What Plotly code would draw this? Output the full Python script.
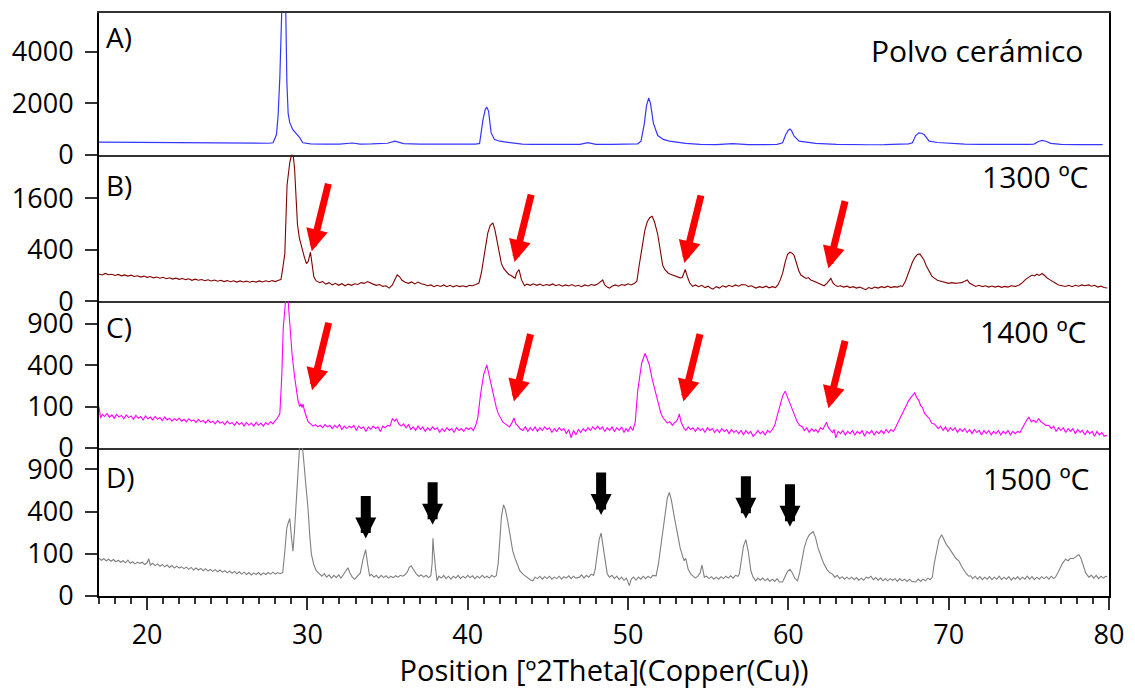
import numpy as np
import plotly.graph_objects as go
from plotly.subplots import make_subplots

# ---------------- data: (2theta [deg], intensity [counts]) ----------------
A_pts = [(17.0, 495), (18, 490), (19, 485), (20, 480), (21, 470), (22, 468), (23, 460), (24, 455), (25, 452),
         (26, 448), (27, 445), (27.6, 450), (27.86, 470), (28.07, 790), (28.17, 1500), (28.28, 3010),
         (28.4, 5600), (28.52, 8000), (28.65, 5600), (28.72, 2800), (28.8, 1600), (28.9, 1250), (29.09, 980),
         (29.3, 820), (29.52, 670), (29.71, 470), (30.2, 430), (31, 420), (32, 418), (32.8, 460), (33.3, 420),
         (34, 425), (35, 450), (35.45, 530), (36, 440), (37, 420), (38, 415), (39, 412), (40, 410), (40.5, 420),
         (40.74, 446), (40.95, 1360), (41.1, 1780), (41.19, 1844), (41.3, 1700), (41.46, 853), (41.67, 598),
         (42, 530), (42.4, 495), (43.4, 420), (44, 410), (45, 405), (46, 400), (47, 405), (47.49, 472),
         (48, 410), (49, 405), (50, 410), (50.6, 430), (50.81, 533), (51.02, 1234), (51.15, 1900), (51.29, 2210),
         (51.4, 2000), (51.58, 1234), (51.85, 750), (52.2, 600), (52.58, 533), (53.6, 446), (54.5, 410),
         (55.5, 400), (56.52, 434), (57.5, 395), (58.5, 395), (59.3, 410), (59.64, 472), (59.84, 789),
         (60.0, 960), (60.1, 1005), (60.2, 940), (60.36, 724), (60.67, 533), (61.2, 480), (61.7, 446),
         (63, 410), (63.8, 396), (65, 392), (66, 395), (67, 405), (67.5, 430), (67.74, 472), (67.94, 750),
         (68.15, 853), (68.3, 840), (68.47, 789), (68.78, 533), (69.3, 480), (70.0, 446), (71, 420), (72, 405),
         (73, 400), (74, 398), (75, 405), (75.32, 420), (75.6, 520), (75.83, 560), (76.1, 520), (76.36, 446),
         (77, 410), (78, 400), (79, 396), (79.6, 396)]

B_pts = [(17.0, 112), (17.2, 104), (17.4, 116), (17.6, 106), (17.8, 110), (18.0, 100), (18.2, 108), (18.4, 97),
         (18.6, 104), (18.8, 95), (19.0, 102), (19.2, 92), (19.4, 98), (19.6, 88), (19.8, 95), (20.0, 86),
         (20.2, 92), (20.4, 82), (20.6, 88), (20.8, 80), (21.0, 86), (21.2, 76), (21.4, 83), (21.6, 74),
         (21.8, 80), (22.0, 72), (22.2, 78), (22.4, 70), (22.6, 76), (22.8, 66), (23.0, 73), (23.2, 66),
         (23.4, 71), (23.6, 63), (23.8, 69), (24.0, 62), (24.2, 68), (24.4, 60), (24.6, 66), (24.8, 58),
         (25.0, 64), (25.2, 57), (25.4, 63), (25.6, 55), (25.8, 62), (26.0, 56), (26.2, 61), (26.4, 54),
         (26.6, 60), (26.8, 55), (27.0, 62), (27.2, 56), (27.4, 63), (27.6, 57), (27.8, 64), (28.0, 58),
         (28.2, 66), (28.35, 70), (28.45, 150), (28.59, 338), (28.73, 2024), (28.9, 2900), (29.04, 3300),
         (29.12, 3180), (29.2, 2635), (29.38, 886), (29.5, 600), (29.63, 437), (29.8, 300), (29.94, 212),
         (30.05, 240), (30.19, 361), (30.3, 200), (30.4, 90), (30.55, 62), (30.77, 52), (30.95, 58), (31.15, 44),
         (31.35, 52), (31.55, 40), (31.75, 48), (31.95, 38), (32.15, 46), (32.35, 36), (32.55, 44), (32.75, 38),
         (32.95, 46), (33.15, 42), (33.35, 52), (33.55, 48), (33.75, 58), (33.9, 50), (34.1, 44), (34.3, 38),
         (34.5, 42), (34.7, 33), (34.9, 36), (35.1, 26), (35.3, 40), (35.45, 70), (35.6, 105), (35.75, 90),
         (35.9, 66), (36.1, 54), (36.3, 48), (36.5, 56), (36.7, 45), (36.9, 55), (37.1, 46), (37.3, 42),
         (37.5, 36), (37.7, 40), (37.9, 32), (38.1, 38), (38.3, 33), (38.5, 40), (38.7, 32), (38.9, 38),
         (39.1, 31), (39.3, 37), (39.5, 32), (39.7, 36), (39.9, 31), (40.1, 38), (40.3, 36), (40.5, 42),
         (40.7, 50), (40.85, 120), (41.0, 300), (41.1, 437), (41.25, 700), (41.4, 860), (41.57, 925),
         (41.7, 760), (41.78, 611), (41.95, 360), (42.1, 212), (42.25, 160), (42.4, 130), (42.55, 110),
         (42.7, 100), (42.85, 88), (42.95, 79), (43.05, 120), (43.2, 151), (43.35, 70), (43.54, 36), (43.7, 44),
         (43.9, 38), (44.1, 46), (44.3, 38), (44.5, 44), (44.7, 36), (44.9, 42), (45.1, 38), (45.3, 45),
         (45.5, 36), (45.7, 42), (45.9, 34), (46.1, 40), (46.3, 35), (46.5, 42), (46.7, 34), (46.9, 38),
         (47.1, 32), (47.3, 40), (47.5, 35), (47.7, 42), (47.9, 38), (48.1, 44), (48.3, 60), (48.42, 68),
         (48.55, 40), (48.7, 30), (48.84, 26), (49.0, 34), (49.2, 40), (49.4, 34), (49.6, 42), (49.8, 38),
         (50.0, 46), (50.2, 40), (50.4, 48), (50.55, 60), (50.7, 200), (50.91, 491), (51.05, 760), (51.2, 950),
         (51.35, 1050), (51.5, 1087), (51.65, 950), (51.85, 675), (52.0, 380), (52.16, 195), (52.3, 150),
         (52.5, 120), (52.65, 110), (52.78, 103), (52.95, 92), (53.1, 90), (53.25, 82), (53.38, 85),
         (53.45, 110), (53.57, 151), (53.7, 90), (53.85, 50), (54.03, 33), (54.2, 40), (54.4, 32), (54.6, 38),
         (54.8, 28), (55.0, 34), (55.15, 26), (55.3, 22), (55.5, 32), (55.7, 26), (55.9, 36), (56.1, 30),
         (56.3, 38), (56.5, 32), (56.7, 40), (56.9, 34), (57.1, 42), (57.35, 40), (57.5, 32), (57.7, 36),
         (57.97, 26), (58.2, 32), (58.4, 28), (58.6, 34), (58.8, 27), (59.0, 32), (59.2, 28), (59.35, 40),
         (59.5, 70), (59.64, 116), (59.8, 230), (59.95, 330), (60.1, 361), (60.25, 345), (60.36, 315),
         (60.5, 220), (60.65, 140), (60.78, 103), (60.95, 90), (61.1, 78), (61.25, 84), (61.4, 68), (61.6, 60),
         (61.8, 52), (62.0, 44), (62.23, 36), (62.4, 48), (62.55, 66), (62.65, 79), (62.78, 50), (62.9, 40),
         (63.06, 33), (63.25, 36), (63.45, 30), (63.65, 34), (63.85, 28), (64.05, 32), (64.25, 26), (64.45, 30),
         (64.65, 24), (64.83, 20), (65.0, 28), (65.2, 24), (65.4, 30), (65.6, 26), (65.8, 32), (66.0, 28),
         (66.2, 34), (66.4, 28), (66.6, 32), (66.8, 30), (67.0, 36), (67.12, 33), (67.3, 60), (67.5, 120),
         (67.62, 180), (67.74, 231), (67.9, 290), (68.05, 330), (68.2, 338), (68.32, 300), (68.45, 260),
         (68.6, 190), (68.78, 130), (68.95, 95), (69.1, 80), (69.3, 66), (69.45, 62), (69.6, 58), (69.8, 52),
         (70.0, 48), (70.2, 52), (70.43, 48), (70.6, 50), (70.8, 52), (71.0, 60), (71.16, 68), (71.3, 50),
         (71.5, 40), (71.68, 33), (71.9, 38), (72.1, 32), (72.3, 36), (72.5, 30), (72.7, 35), (72.9, 30),
         (73.1, 34), (73.3, 29), (73.5, 33), (73.7, 30), (73.9, 36), (74.17, 33), (74.4, 40), (74.6, 52),
         (74.8, 72), (75.0, 88), (75.2, 103), (75.35, 96), (75.5, 110), (75.65, 100), (75.83, 116), (76.0, 98),
         (76.1, 85), (76.3, 70), (76.46, 58), (76.65, 50), (76.85, 40), (77.05, 36), (77.29, 33), (77.5, 38),
         (77.7, 32), (77.9, 38), (78.1, 34), (78.3, 40), (78.5, 36), (78.74, 40), (78.9, 34), (79.1, 38),
         (79.3, 30), (79.5, 34), (79.7, 28), (79.89, 26)]

C_pts = [(17.0, 100), (17.1, 52), (17.2, 66), (17.35, 58), (17.5, 70), (17.65, 55), (17.8, 64), (17.95, 52),
         (18.1, 66), (18.25, 56), (18.4, 62), (18.55, 50), (18.7, 64), (18.85, 54), (19.0, 60), (19.15, 48),
         (19.3, 62), (19.45, 52), (19.6, 58), (19.75, 46), (19.9, 60), (20.05, 50), (20.2, 56), (20.35, 46),
         (20.5, 58), (20.65, 48), (20.8, 54), (20.95, 44), (21.1, 56), (21.25, 46), (21.4, 52), (21.55, 42),
         (21.7, 50), (21.85, 44), (22.0, 52), (22.15, 42), (22.3, 48), (22.45, 40), (22.6, 50), (22.75, 42),
         (22.9, 46), (23.05, 38), (23.2, 48), (23.35, 40), (23.5, 44), (23.65, 36), (23.8, 46), (23.95, 38),
         (24.1, 42), (24.25, 34), (24.4, 44), (24.55, 36), (24.7, 40), (24.85, 32), (25.0, 42), (25.15, 34),
         (25.3, 38), (25.45, 30), (25.6, 40), (25.75, 32), (25.9, 38), (26.05, 28), (26.2, 38), (26.35, 30),
         (26.5, 36), (26.65, 28), (26.8, 38), (26.95, 30), (27.1, 36), (27.25, 28), (27.4, 38), (27.55, 32),
         (27.7, 40), (27.85, 34), (27.97, 42), (28.1, 50), (28.28, 68), (28.4, 300), (28.49, 828), (28.6, 1300),
         (28.7, 1500), (28.8, 1250), (28.9, 920), (29.05, 500), (29.21, 286), (29.32, 180), (29.42, 129),
         (29.52, 100), (29.6, 115), (29.67, 95), (29.73, 112), (29.82, 80), (29.94, 55), (30.05, 40), (30.2, 34),
         (30.35, 28), (30.5, 32), (30.65, 26), (30.8, 30), (30.95, 24), (31.1, 32), (31.25, 26), (31.4, 30),
         (31.55, 22), (31.7, 30), (31.85, 24), (32.0, 32), (32.15, 20), (32.3, 28), (32.45, 22), (32.6, 28),
         (32.75, 24), (32.9, 30), (33.05, 18), (33.2, 28), (33.35, 22), (33.5, 26), (33.65, 16), (33.8, 26),
         (33.95, 20), (34.1, 28), (34.25, 22), (34.4, 26), (34.55, 16), (34.7, 28), (34.85, 24), (35.0, 30),
         (35.15, 28), (35.3, 50), (35.45, 42), (35.55, 50), (35.7, 34), (35.85, 28), (36.0, 34), (36.15, 24),
         (36.3, 32), (36.45, 20), (36.6, 26), (36.75, 18), (36.9, 28), (37.05, 20), (37.2, 26), (37.35, 16),
         (37.5, 24), (37.65, 18), (37.8, 26), (37.95, 20), (38.1, 24), (38.25, 14), (38.4, 22), (38.55, 16),
         (38.7, 24), (38.85, 18), (39.0, 22), (39.15, 14), (39.3, 24), (39.45, 18), (39.6, 22), (39.75, 16),
         (39.9, 24), (40.05, 20), (40.2, 24), (40.35, 18), (40.5, 30), (40.63, 55), (40.8, 168), (41.0, 320),
         (41.19, 403), (41.3, 330), (41.46, 235), (41.6, 150), (41.78, 96), (41.9, 70), (42.05, 52), (42.19, 39),
         (42.35, 34), (42.5, 28), (42.6, 26), (42.75, 36), (42.88, 53), (43.0, 34), (43.1, 30), (43.25, 22),
         (43.44, 18), (43.6, 26), (43.75, 16), (43.9, 24), (44.05, 18), (44.2, 26), (44.35, 16), (44.5, 24),
         (44.65, 18), (44.8, 26), (44.95, 20), (45.1, 24), (45.25, 14), (45.4, 22), (45.55, 16), (45.7, 24),
         (45.85, 18), (46.0, 22), (46.15, 12), (46.3, 20), (46.45, 6), (46.6, 18), (46.75, 10), (46.9, 20),
         (47.05, 14), (47.2, 22), (47.35, 16), (47.5, 24), (47.65, 18), (47.8, 26), (47.95, 20), (48.1, 28),
         (48.25, 20), (48.4, 26), (48.55, 16), (48.7, 24), (48.85, 18), (49.0, 26), (49.15, 16), (49.3, 24),
         (49.45, 18), (49.6, 26), (49.75, 14), (49.87, 22), (50.0, 16), (50.15, 26), (50.3, 18), (50.45, 40),
         (50.6, 189), (50.85, 420), (51.06, 522), (51.2, 460), (51.33, 403), (51.5, 280), (51.75, 168),
         (51.9, 100), (52.05, 70), (52.16, 55), (52.3, 44), (52.45, 36), (52.6, 40), (52.78, 30), (52.9, 38),
         (53.0, 40), (53.1, 50), (53.2, 68), (53.3, 40), (53.4, 30), (53.5, 22), (53.61, 18), (53.75, 26),
         (53.9, 20), (54.05, 24), (54.2, 16), (54.35, 24), (54.5, 18), (54.65, 22), (54.8, 14), (54.95, 24),
         (55.1, 18), (55.27, 22), (55.4, 14), (55.55, 20), (55.7, 14), (55.85, 22), (56.0, 16), (56.15, 20),
         (56.3, 12), (56.45, 20), (56.6, 14), (56.75, 18), (56.9, 12), (57.05, 18), (57.2, 10), (57.35, 18),
         (57.5, 12), (57.65, 16), (57.8, 8), (57.97, 12), (58.1, 18), (58.25, 12), (58.4, 16), (58.55, 10),
         (58.7, 18), (58.85, 14), (59.0, 20), (59.15, 30), (59.3, 60), (59.45, 95), (59.53, 112), (59.65, 160),
         (59.8, 189), (59.95, 150), (60.1, 110), (60.26, 81), (60.4, 60), (60.55, 40), (60.7, 30), (60.88, 26),
         (61.0, 18), (61.15, 24), (61.3, 14), (61.45, 22), (61.6, 16), (61.71, 20), (61.85, 14), (62.0, 24),
         (62.15, 20), (62.3, 30), (62.38, 39), (62.5, 24), (62.6, 20), (62.75, 14), (62.85, 20), (62.96, 6),
         (63.1, 16), (63.25, 12), (63.4, 18), (63.55, 10), (63.7, 16), (63.85, 12), (64.0, 18), (64.15, 10),
         (64.3, 16), (64.45, 12), (64.6, 18), (64.75, 8), (64.9, 16), (65.05, 12), (65.2, 18), (65.35, 10),
         (65.5, 16), (65.65, 12), (65.8, 18), (65.95, 12), (66.1, 20), (66.25, 14), (66.4, 20), (66.55, 16),
         (66.7, 26), (66.85, 40), (67.0, 55), (67.15, 70), (67.32, 96), (67.5, 130), (67.65, 150), (67.8, 165),
         (67.88, 178), (68.0, 150), (68.15, 130), (68.25, 105), (68.36, 96), (68.5, 70), (68.65, 58), (68.8, 50),
         (68.95, 36), (69.1, 34), (69.19, 30), (69.35, 22), (69.5, 28), (69.65, 18), (69.8, 26), (69.95, 16),
         (70.1, 24), (70.25, 18), (70.4, 24), (70.55, 14), (70.7, 22), (70.85, 16), (71.0, 22), (71.15, 14),
         (71.3, 20), (71.45, 12), (71.6, 20), (71.75, 14), (71.9, 18), (72.05, 10), (72.2, 18), (72.35, 12),
         (72.5, 18), (72.65, 10), (72.8, 16), (72.95, 12), (73.1, 18), (73.25, 10), (73.4, 16), (73.55, 12),
         (73.7, 18), (73.85, 10), (74.0, 16), (74.15, 12), (74.3, 16), (74.45, 14), (74.6, 24), (74.75, 36),
         (74.9, 48), (75.0, 55), (75.15, 40), (75.3, 45), (75.45, 38), (75.62, 50), (75.75, 40), (75.9, 36),
         (76.05, 30), (76.25, 30), (76.4, 22), (76.55, 28), (76.7, 16), (76.85, 24), (77.0, 18), (77.15, 24),
         (77.3, 14), (77.45, 22), (77.6, 16), (77.75, 22), (77.9, 12), (78.05, 20), (78.2, 14), (78.33, 18),
         (78.5, 10), (78.65, 18), (78.8, 12), (78.95, 16), (79.1, 8), (79.25, 16), (79.4, 10), (79.55, 14),
         (79.7, 8), (79.89, 10)]

D_pts = [(17.0, 80), (17.15, 72), (17.3, 78), (17.45, 70), (17.6, 76), (17.75, 68), (17.9, 75), (18.05, 66),
         (18.2, 72), (18.35, 64), (18.5, 70), (18.65, 62), (18.8, 72), (18.95, 60), (19.1, 66), (19.25, 58),
         (19.4, 64), (19.55, 60), (19.7, 64), (19.85, 56), (20.0, 62), (20.1, 78), (20.2, 54), (20.35, 60),
         (20.5, 52), (20.65, 58), (20.8, 50), (20.95, 56), (21.1, 48), (21.25, 54), (21.4, 46), (21.55, 52),
         (21.7, 44), (21.85, 50), (22.0, 44), (22.15, 48), (22.3, 42), (22.45, 47), (22.6, 40), (22.75, 46),
         (22.9, 38), (23.05, 44), (23.2, 38), (23.35, 43), (23.5, 36), (23.65, 42), (23.8, 35), (23.95, 40),
         (24.1, 34), (24.25, 39), (24.4, 33), (24.55, 38), (24.7, 32), (24.85, 36), (25.0, 30), (25.15, 35),
         (25.3, 29), (25.45, 34), (25.6, 28), (25.75, 33), (25.9, 27), (26.05, 32), (26.2, 26), (26.35, 31),
         (26.5, 25), (26.65, 30), (26.8, 26), (26.95, 31), (27.1, 25), (27.25, 30), (27.4, 26), (27.55, 31),
         (27.7, 27), (27.85, 32), (28.0, 27), (28.15, 31), (28.3, 28), (28.46, 31), (28.6, 120), (28.71, 257),
         (28.8, 300), (28.9, 338), (29.0, 200), (29.1, 113), (29.2, 250), (29.27, 428), (29.4, 900),
         (29.52, 1300), (29.62, 1350), (29.73, 1148), (29.9, 700), (30.04, 428), (30.15, 200), (30.25, 97),
         (30.4, 55), (30.55, 36), (30.77, 27), (30.9, 22), (31.05, 28), (31.2, 20), (31.35, 25), (31.5, 18),
         (31.65, 24), (31.8, 19), (31.95, 25), (32.1, 18), (32.25, 26), (32.4, 35), (32.53, 45), (32.65, 30),
         (32.8, 20), (32.95, 16), (33.1, 22), (33.3, 30), (33.45, 70), (33.63, 121), (33.75, 60), (33.88, 23),
         (34.0, 26), (34.15, 20), (34.3, 24), (34.45, 18), (34.6, 24), (34.75, 19), (34.9, 23), (35.05, 18),
         (35.2, 22), (35.35, 19), (35.5, 23), (35.65, 20), (35.8, 24), (35.95, 22), (36.1, 26), (36.25, 34),
         (36.35, 46), (36.48, 51), (36.6, 40), (36.8, 27), (36.95, 22), (37.1, 25), (37.25, 20), (37.4, 24),
         (37.55, 19), (37.7, 23), (37.78, 60), (37.83, 188), (37.88, 120), (37.93, 90), (38.0, 40), (38.08, 13),
         (38.2, 22), (38.35, 18), (38.5, 24), (38.65, 17), (38.8, 22), (38.95, 16), (39.1, 22), (39.25, 18),
         (39.4, 24), (39.55, 17), (39.7, 22), (39.85, 18), (40.0, 24), (40.15, 19), (40.3, 23), (40.45, 17),
         (40.6, 22), (40.75, 18), (40.9, 24), (41.05, 19), (41.2, 22), (41.35, 18), (41.5, 24), (41.65, 20),
         (41.78, 23), (41.9, 60), (41.98, 168), (42.1, 350), (42.23, 468), (42.35, 420), (42.5, 310),
         (42.65, 200), (42.81, 113), (42.95, 80), (43.1, 55), (43.25, 36), (43.44, 27), (43.6, 22), (43.75, 18),
         (43.9, 15), (44.06, 13), (44.2, 20), (44.35, 17), (44.5, 22), (44.65, 16), (44.8, 21), (44.95, 17),
         (45.1, 22), (45.25, 16), (45.4, 20), (45.55, 17), (45.7, 22), (45.85, 16), (46.0, 21), (46.15, 18),
         (46.3, 23), (46.45, 17), (46.6, 22), (46.75, 18), (46.97, 20), (47.1, 25), (47.25, 18), (47.4, 24),
         (47.55, 20), (47.7, 27), (47.85, 24), (47.95, 40), (48.1, 110), (48.2, 180), (48.32, 222),
         (48.45, 140), (48.59, 57), (48.7, 28), (48.84, 20), (49.0, 24), (49.15, 17), (49.3, 22), (49.45, 15),
         (49.6, 20), (49.75, 14), (49.9, 18), (50.08, 6), (50.2, 16), (50.35, 20), (50.5, 14), (50.65, 20),
         (50.8, 16), (50.95, 22), (51.1, 17), (51.25, 22), (51.4, 18), (51.55, 24), (51.75, 23), (51.9, 60),
         (52.05, 150), (52.16, 233), (52.3, 380), (52.45, 540), (52.58, 604), (52.7, 520), (52.85, 380),
         (52.99, 283), (53.1, 200), (53.25, 130), (53.4, 90), (53.5, 70), (53.6, 80), (53.75, 40), (53.92, 27),
         (54.05, 22), (54.2, 18), (54.35, 22), (54.5, 30), (54.61, 54), (54.68, 30), (54.76, 20), (54.9, 22),
         (55.05, 17), (55.2, 21), (55.35, 16), (55.5, 20), (55.65, 16), (55.8, 21), (55.95, 17), (56.1, 22),
         (56.25, 18), (56.4, 23), (56.55, 18), (56.7, 24), (56.85, 22), (56.94, 27), (57.05, 70), (57.2, 140),
         (57.35, 178), (57.5, 110), (57.66, 36), (57.8, 20), (57.97, 13), (58.1, 18), (58.25, 14), (58.4, 18),
         (58.55, 13), (58.7, 17), (58.85, 12), (59.0, 16), (59.15, 12), (59.3, 17), (59.45, 11), (59.64, 11),
         (59.8, 22), (59.95, 34), (60.1, 40), (60.25, 30), (60.4, 18), (60.57, 13), (60.7, 30), (60.85, 80),
         (60.99, 130), (61.15, 180), (61.3, 210), (61.45, 225), (61.55, 233), (61.7, 190), (61.85, 130),
         (62.03, 90), (62.2, 60), (62.4, 40), (62.55, 32), (62.75, 27), (62.9, 20), (63.05, 24), (63.2, 17),
         (63.35, 21), (63.5, 16), (63.65, 20), (63.79, 16), (63.95, 20), (64.1, 15), (64.25, 19), (64.4, 14),
         (64.55, 18), (64.7, 14), (64.85, 20), (65.0, 18), (65.15, 22), (65.3, 15), (65.45, 19), (65.6, 14),
         (65.75, 18), (65.9, 13), (66.05, 17), (66.2, 13), (66.35, 17), (66.5, 14), (66.65, 17), (66.8, 12),
         (66.95, 17), (67.1, 13), (67.25, 16), (67.4, 12), (67.55, 16), (67.7, 12), (67.94, 11), (68.1, 16),
         (68.25, 12), (68.4, 16), (68.55, 13), (68.7, 18), (68.85, 15), (68.98, 20), (69.1, 60), (69.25, 120),
         (69.4, 180), (69.56, 211), (69.7, 180), (69.85, 150), (70.02, 130), (70.15, 110), (70.3, 95),
         (70.45, 80), (70.64, 69), (70.8, 50), (70.95, 36), (71.1, 28), (71.25, 22), (71.37, 23), (71.5, 17),
         (71.65, 22), (71.8, 16), (71.95, 21), (72.1, 15), (72.25, 20), (72.4, 16), (72.55, 21), (72.7, 15),
         (72.85, 20), (73.0, 16), (73.15, 22), (73.3, 15), (73.45, 20), (73.6, 16), (73.75, 21), (73.9, 14),
         (74.05, 19), (74.17, 16), (74.3, 21), (74.45, 15), (74.6, 20), (74.75, 16), (74.9, 22), (75.05, 16),
         (75.2, 21), (75.35, 15), (75.5, 20), (75.65, 16), (75.8, 21), (75.95, 17), (76.1, 21), (76.25, 16),
         (76.4, 22), (76.55, 17), (76.66, 20), (76.8, 30), (76.95, 45), (77.1, 60), (77.29, 76), (77.45, 70),
         (77.6, 80), (77.75, 78), (77.9, 85), (78.0, 92), (78.12, 97), (78.25, 80), (78.4, 50), (78.55, 30),
         (78.74, 20), (78.9, 24), (79.05, 18), (79.2, 24), (79.35, 17), (79.5, 22), (79.65, 18), (79.8, 22),
         (79.89, 20)]

# arrow tips (2theta, counts)
red_B_t = [30.27, 42.92, 53.51, 62.5]
red_B_i = [376, 231, 220, 160]
red_C_t = [30.29, 42.88, 53.45, 62.5]
red_C_i = [195, 126, 126, 92]
blk_D_t = [33.64, 37.81, 48.32, 57.35, 60.1]
blk_D_i = [186, 286, 370, 335, 270]

yticks_A = [0, 2000, 4000]
yticks_B = [0, 400, 1600]
yticks_CD = [0, 100, 400, 900]

panel_names = ["A)", "B)", "C)", "D)"]
panel_titles = ["Polvo cerámico", "1300 ºC", "1400 ºC", "1500 ºC"]
x_title = "Position [º2Theta](Copper(Cu))"

# ---------------- figure ----------------
FONT = "Open Sans"
fig = make_subplots(rows=4, cols=1, shared_xaxes=True, vertical_spacing=0,
                    row_heights=[144.7, 149.3, 149.7, 151.0])


def unzip(pts):
    t = [p[0] for p in pts]
    v = [p[1] for p in pts]
    return t, v


def sq(v):
    return np.sqrt(np.asarray(v, dtype=float))


tA, iA = unzip(A_pts)
tB, iB = unzip(B_pts)
tC, iC = unzip(C_pts)
tD, iD = unzip(D_pts)

fig.add_trace(go.Scatter(x=tA, y=iA, mode="lines", line=dict(color="#3535ff", width=1.2)), row=1, col=1)
fig.add_trace(go.Scatter(x=tB, y=sq(iB), mode="lines", line=dict(color="#800000", width=1.1)), row=2, col=1)
fig.add_trace(go.Scatter(x=tC, y=sq(iC), mode="lines", line=dict(color="#ff00ff", width=1.1)), row=3, col=1)
fig.add_trace(go.Scatter(x=tD, y=sq(iD), mode="lines", line=dict(color="#808080", width=1.1)), row=4, col=1)

tickfont = dict(family=FONT, size=27, color="black")
yaxis_common = dict(showline=True, linecolor="black", linewidth=2, mirror=True, ticks="outside",
                    ticklen=12, tickwidth=2, tickcolor="#333", showgrid=False, zeroline=False,
                    tickfont=tickfont, ticklabelstandoff=6, fixedrange=True)
fig.update_yaxes(range=[0, 5512], tickvals=yticks_A, ticktext=[str(v) for v in yticks_A],
                 row=1, col=1, **yaxis_common)
fig.update_yaxes(range=[0, 56.8], tickvals=list(sq(yticks_B)), ticktext=[str(v) for v in yticks_B],
                 row=2, col=1, **yaxis_common)
fig.update_yaxes(range=[0, 35.5], tickvals=list(sq(yticks_CD)), ticktext=[str(v) for v in yticks_CD],
                 row=3, col=1, **yaxis_common)
fig.update_yaxes(range=[0, 35.1], tickvals=list(sq(yticks_CD)), ticktext=[str(v) for v in yticks_CD],
                 row=4, col=1, **yaxis_common)

for r in (1, 2, 3):
    fig.update_xaxes(range=[17, 80], showline=True, linecolor="#333", linewidth=2,
                     mirror=(r == 1), ticks="", showticklabels=False, showgrid=False, zeroline=False,
                     row=r, col=1)
fig.update_xaxes(range=[17, 80], showline=True, linecolor="black", linewidth=2, ticks="outside",
                 ticklen=12, tickwidth=2, tickcolor="#333", tick0=0, dtick=10, showgrid=False,
                 zeroline=False, tickfont=tickfont, ticklabelstandoff=2,
                 minor=dict(dtick=1, ticks="outside", ticklen=6, tickwidth=1.5, tickcolor="#333",
                            showgrid=False),
                 title=dict(text=x_title, font=dict(family=FONT, size=29, color="black"), standoff=5),
                 row=4, col=1)

# panel labels
label_y = [0.834, 0.792, 0.822, 0.806]
title_y = [0.737, 0.854, 0.794, 0.794]
title_x = [0.976, 0.982, 0.980, 0.983]
yrefs = ["y", "y2", "y3", "y4"]
for k in range(4):
    fig.add_annotation(text=panel_names[k], xref="x domain", yref=yrefs[k] + " domain",
                       x=0.005, y=label_y[k], xanchor="left", yanchor="middle", showarrow=False,
                       font=dict(family=FONT, size=28, color="black"))
    fig.add_annotation(text=panel_titles[k], xref="x domain", yref=yrefs[k] + " domain",
                       x=title_x[k], y=title_y[k], xanchor="right", yanchor="middle", showarrow=False,
                       font=dict(family=FONT, size=30, color="black"))

# arrows (arrowhead tip lands on the given point)
for t, v in zip(red_B_t, red_B_i):
    fig.add_annotation(x=t, y=float(np.sqrt(v)), xref="x", yref="y2", ax=17, ay=-69, text="",
                       showarrow=True, arrowhead=2, arrowwidth=7, arrowsize=0.63, arrowcolor="#ff0000",
                       standoff=0)
for t, v in zip(red_C_t, red_C_i):
    fig.add_annotation(x=t, y=float(np.sqrt(v)), xref="x", yref="y3", ax=17, ay=-69, text="",
                       showarrow=True, arrowhead=2, arrowwidth=7, arrowsize=0.63, arrowcolor="#ff0000",
                       standoff=0)
for t, v in zip(blk_D_t, blk_D_i):
    fig.add_annotation(x=t, y=float(np.sqrt(v)), xref="x", yref="y4", ax=0, ay=-44, text="",
                       showarrow=True, arrowhead=2, arrowwidth=10, arrowsize=0.42, arrowcolor="black",
                       standoff=0)

fig.update_layout(width=1135, height=689, margin=dict(l=99, r=24, t=11, b=83),
                  plot_bgcolor="white", paper_bgcolor="white", showlegend=False)

fig.write_html("out.html", config={"displayModeBar": False},
               post_script="document.body.style.margin='0px';")
